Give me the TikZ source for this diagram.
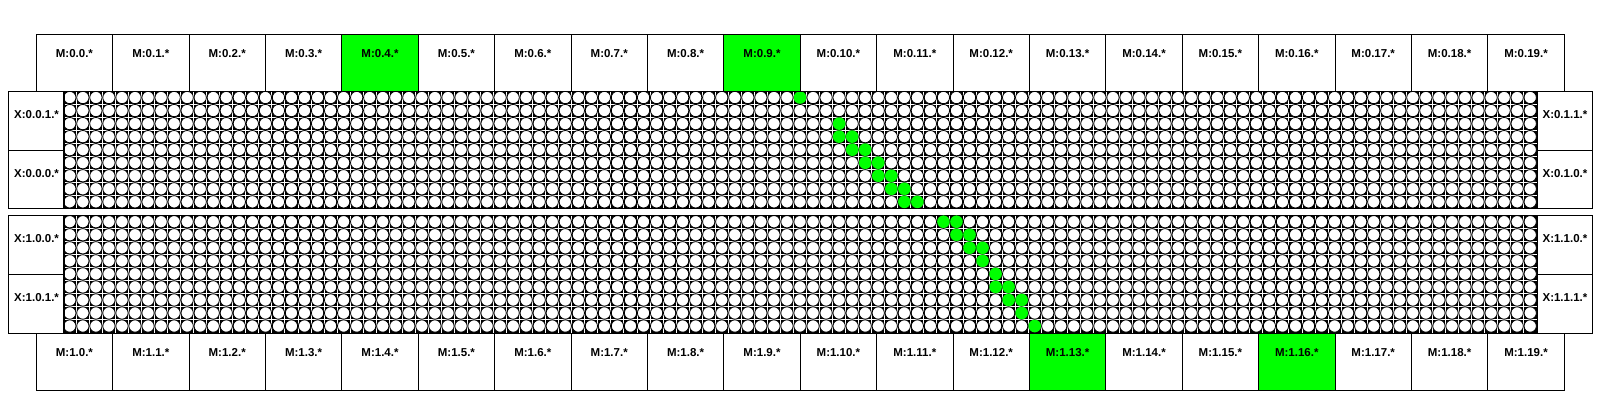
\documentclass[tikz,border=0pt]{standalone}
\usepackage{fontspec}
\setmainfont{Liberation Sans}
\definecolor{hot}{RGB}{0,255,0}
\begin{document}
\begin{tikzpicture}[x=1pt,y=-1pt,
  box/.style={draw=black,line width=1pt,inner sep=0pt,anchor=north west},
  lbl/.style={inner sep=0pt,font=\bfseries\fontsize{11.5}{13}\selectfont},
  gline/.style={draw=white,line width=1pt},
  cell/.style={draw=black,fill=white,line width=0.8pt},
  hit/.style={circle,fill=hot,draw=none,inner sep=0pt,minimum size=12.6pt}]
\useasboundingbox (0,0) rectangle (1600,400);
\def\cw{13.039}
\def\gx{63.3}
% grid blocks
\foreach \top/\nm in {91/ga,215.2/gb}{
  \fill[black] (\gx,\top) rectangle ({\gx+113*\cw},{\top+9*\cw});
  \foreach \c in {1,...,112}{
    \draw[gline] ({\gx+\c*\cw},\top) -- ({\gx+\c*\cw},{\top+9*\cw});
  }
  \foreach \r in {1,...,8}{
    \draw[gline] (\gx,{\top+\r*\cw}) -- ({\gx+113*\cw},{\top+\r*\cw});
  }
  \foreach \r in {0,...,8}{
    \foreach \c in {0,...,112}{
      \draw[cell] ({\gx+(\c+0.5)*\cw},{\top+(\r+0.5)*\cw}) circle[radius=6.15];
    }
  }
  \node[box,minimum width=1473.4pt,minimum height=117.35pt] (\nm) at (\gx,\top) {};
}
% green path, upper block
\foreach \r/\c in {0/56,2/59,3/59,3/60,4/60,4/61,5/61,5/62,6/62,6/63,7/63,7/64,8/64,8/65}{
  \node[hit] (ha-\r-\c) at ({\gx+(\c+0.5)*\cw},{91+(\r+0.5)*\cw}) {};
}
% green path, lower block
\foreach \r/\c in {0/67,0/68,1/68,1/69,2/69,2/70,3/70,4/71,5/71,5/72,6/72,6/73,7/73,8/74}{
  \node[hit] (hb-\r-\c) at ({\gx+(\c+0.5)*\cw},{215.2+(\r+0.5)*\cw}) {};
}
% M boxes
\foreach \i in {0,...,19}{
  \def\fc{white}
  \ifnum\i=4 \def\fc{hot}\fi
  \ifnum\i=9 \def\fc{hot}\fi
  \node[box,fill=\fc,minimum width=76.4pt,minimum height=56.7pt] (mt\i) at ({35.7+76.4*\i},34.3) {};
  \node[lbl] (mtl\i) at ([yshift=-19.5pt]mt\i.north) {M:0.\i.*};
}
\foreach \i in {0,...,19}{
  \def\fc{white}
  \ifnum\i=13 \def\fc{hot}\fi
  \ifnum\i=16 \def\fc{hot}\fi
  \node[box,fill=\fc,minimum width=76.4pt,minimum height=57.5pt] (mb\i) at ({35.7+76.4*\i},332.55) {};
  \node[lbl] (mbl\i) at ([yshift=-20pt]mb\i.north) {M:1.\i.*};
}
% X boxes
\foreach \nm/\x/\y/\t in {
  xa/8.3/91/X:0.0.1.*, xb/8.3/149.7/X:0.0.0.*,
  xc/8.3/215.2/X:1.0.0.*, xd/8.3/273.9/X:1.0.1.*,
  xe/1536.7/91/X:0.1.1.*, xf/1536.7/149.7/X:0.1.0.*,
  xg/1536.7/215.2/X:1.1.0.*, xh/1536.7/273.9/X:1.1.1.*}{
  \node[box,minimum width=55.5pt,minimum height=58.67pt] (\nm) at (\x,\y) {};
  \node[lbl] (\nm l) at ([yshift=-23.5pt]\nm.north) {\t};
}
\end{tikzpicture}
\end{document}
